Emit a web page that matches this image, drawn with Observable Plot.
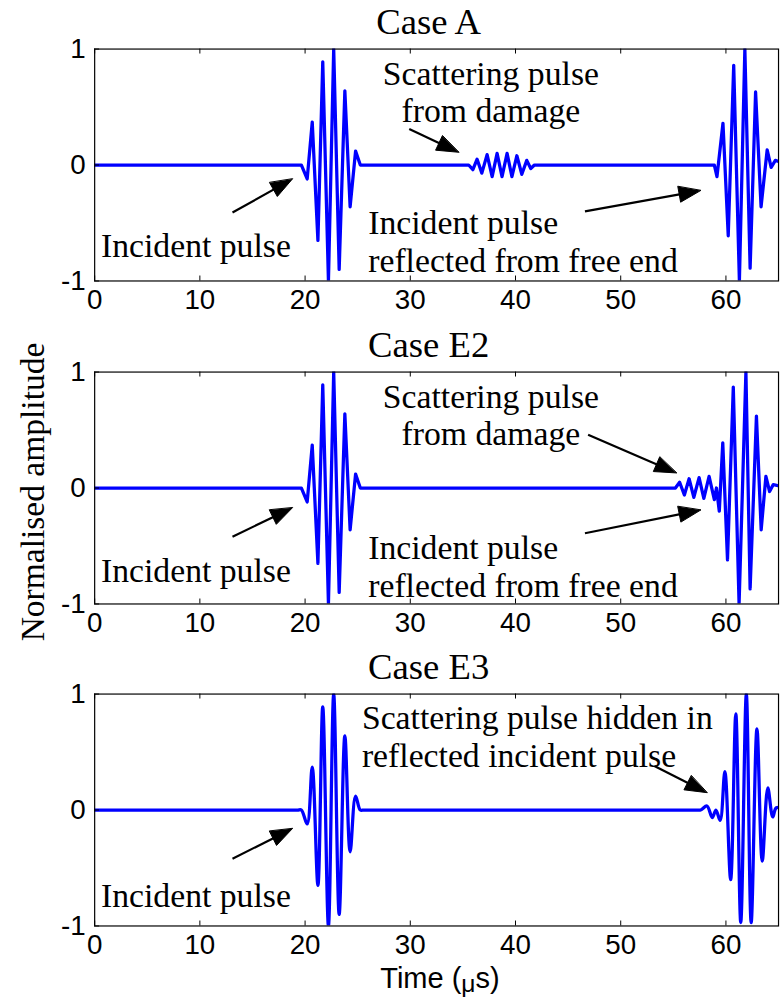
<!DOCTYPE html>
<html>
<head>
<meta charset="utf-8">
<script src="https://cdn.jsdelivr.net/npm/d3@7"></script>
<script src="https://cdn.jsdelivr.net/npm/@observablehq/plot@0.6"></script>
<style>
  html, body { margin: 0; padding: 0; background: #fff; overflow: hidden; }
  #fig { position: relative; width: 783px; height: 1003px; overflow: hidden; }
  .panel { position: absolute; left: 0; }
  #ylabel { position: absolute; left: 33px; top: 492px; transform: translate(-50%, -50%) rotate(-90deg);
            font: 33.5px "Liberation Serif", serif; white-space: nowrap; color: #000; }
  #xlabel { position: absolute; left: 440px; top: 978px; transform: translate(-50%, -50%);
            font: 29px "Liberation Sans", sans-serif; white-space: nowrap; color: #000; }
  #xlabel .mu { font-size: 0.85em; position: relative; top: 0.15em; }
</style>
</head>
<body>
<div id="fig">
  <div id="ylabel">Normalised amplitude</div>
  <div id="xlabel">Time (<span class="mu">μ</span>s)</div>
</div>
<script>
// Axis ticks and panel titles
const timeTicks = [0, 10, 20, 30, 40, 50, 60];
const ampTicks = [-1, 0, 1];
const caseTitles = ["Case A", "Case E2", "Case E3"];

// Waveform points [time (μs), normalised amplitude]
const leadIn = [[0, 0], [18, 0], [19.3, 0], [19.65, 0]];
const incidentPulse = [
  [20.2, -0.12], [20.68, 0.37], [21.22, -0.65], [21.68, 0.89], [22.22, -1.0],
  [22.72, 1.0], [23.24, -0.9], [23.78, 0.64], [24.28, -0.36], [24.8, 0.12], [25.25, 0]
];
const leadOut = [[25.6, 0], [27, 0]];
const scatterA = [
  [35.55, 0], [35.95, -0.04], [36.35, 0.05], [36.8, -0.07], [37.3, 0.09], [37.78, -0.1],
  [38.25, 0.1], [38.72, -0.1], [39.2, 0.1], [39.66, -0.1], [40.13, 0.08], [40.6, -0.08],
  [41.07, 0.04], [41.45, -0.03], [41.8, 0]
];
const reflectedA = [
  [58.9, 0], [59.15, -0.1], [59.72, 0.36], [60.22, -0.61], [60.74, 0.86], [61.28, -1.0],
  [61.8, 1.0], [62.3, -0.89], [62.82, 0.63], [63.34, -0.36], [63.92, 0.13], [64.3, -0.02],
  [64.7, 0.04], [66, 0]
];
const scatterReflectedE2 = [
  [55.2, 0], [55.6, 0.05], [56.05, -0.06], [56.5, 0.08], [56.95, -0.08], [57.45, 0.09],
  [57.9, -0.09], [58.4, 0.1], [58.9, -0.1], [59.1, 0.0], [59.37, -0.2], [59.7, 0.39],
  [60.15, -0.62], [60.7, 0.87], [61.25, -1.0], [61.9, 1.0], [62.3, -0.87], [62.9, 0.62],
  [63.35, -0.36], [63.8, 0.1], [64.15, -0.03], [64.5, 0.03], [66, 0]
];
const scatterReflectedE3 = [
  [55, 0], [57.2, 0], [57.6, 0], [58.2, 0.035], [58.7, -0.065], [59.05, 0.0], [59.45, -0.09],
  [59.9, 0.33], [60.45, -0.6], [60.94, 0.83], [61.41, -0.97], [61.94, 1.0], [62.4, -0.97],
  [62.95, 0.7], [63.45, -0.44], [63.98, 0.19], [64.45, -0.06], [64.8, 0.02], [66, 0]
];

// Annotation text blocks: anchor [time, amplitude] and alignment
const labelsA = [
  {t: 0.6, amp: -0.69, anchor: "start", text: "Incident pulse"},
  {t: 37.66, amp: 0.635, anchor: "middle", text: "Scattering pulse\nfrom damage"},
  {t: 26.0, amp: -0.655, anchor: "start", text: "Incident pulse\nreflected from free end"}
];
const labelsE2 = [
  {t: 0.6, amp: -0.71, anchor: "start", text: "Incident pulse"},
  {t: 37.66, amp: 0.635, anchor: "middle", text: "Scattering pulse\nfrom damage"},
  {t: 26.0, amp: -0.67, anchor: "start", text: "Incident pulse\nreflected from free end"}
];
const labelsE3 = [
  {t: 0.6, amp: -0.73, anchor: "start", text: "Incident pulse"},
  {t: 25.4, amp: 0.6375, anchor: "start", text: "Scattering pulse hidden in\nreflected incident pulse"}
];

// Annotation arrows: tail (t1, a1) to tip (t2, a2)
const arrowsA = [
  {t1: 13.1, a1: -0.41, t2: 18.8, a2: -0.12},
  {t1: 29.9, a1: 0.31, t2: 34.6, a2: 0.11},
  {t1: 46.6, a1: -0.40, t2: 57.6, a2: -0.22}
];
const arrowsE2 = [
  {t1: 46.9, a1: 0.46, t2: 55.3, a2: 0.13},
  {t1: 13.1, a1: -0.42, t2: 18.8, a2: -0.17},
  {t1: 46.6, a1: -0.39, t2: 57.6, a2: -0.19}
];
const arrowsE3 = [
  {t1: 13.1, a1: -0.42, t2: 18.8, a2: -0.16},
  {t1: 53.2, a1: 0.38, t2: 58.2, a2: 0.15}
];

// Layout of one panel
const W = 790, ML = 95, MR = 5, MT = 49, FH = 234, MB = 42;
const X_DOMAIN = [0, 65];
const HEAD_LEN = 22, HEAD_HALF = 8;
const SERIF = "Liberation Serif, Times New Roman, serif";
const SANS = "Liberation Sans, Arial, sans-serif";
const BLUE = "#0000ff";

function panel({title, series, curve, labels, arrows}) {
  // pixels per data unit, used to build filled arrow heads
  const kx = (W - ML - MR) / (X_DOMAIN[1] - X_DOMAIN[0]);
  const ky = FH / 2;
  const heads = [], shafts = [];
  arrows.forEach((a, i) => {
    const dx = (a.t2 - a.t1) * kx, dy = -(a.a2 - a.a1) * ky;
    const len = Math.hypot(dx, dy), ux = dx / len, uy = dy / len;
    const bx = -ux * HEAD_LEN, by = -uy * HEAD_LEN;
    const nx = -uy * HEAD_HALF, ny = ux * HEAD_HALF;
    const toData = (ox, oy) => ({t: a.t2 + ox / kx, amp: a.a2 - oy / ky, id: i});
    heads.push(toData(0, 0), toData(bx + nx, by + ny), toData(bx - nx, by - ny));
    const base = toData(bx * 0.6, by * 0.6);
    shafts.push({t1: a.t1, a1: a.a1, t2: base.t, a2: base.amp});
  });
  const textStyle = {fontFamily: SERIF, fontSize: 34, fill: "black", lineHeight: 1.12};
  return Plot.plot({
    width: W, height: MT + FH + MB,
    marginLeft: ML, marginRight: MR, marginTop: MT, marginBottom: MB,
    style: {fontFamily: SANS, fontSize: "28px", color: "black", background: "transparent", overflow: "visible"},
    x: {domain: X_DOMAIN, ticks: timeTicks, tickSize: 0, tickPadding: 8, tickFormat: d => String(d), label: null},
    y: {domain: [-1, 1], ticks: ampTicks, tickSize: 0, tickPadding: 9, tickFormat: d => String(d), label: null},
    marks: [
      Plot.line(series, {x: d => d[0], y: d => d[1], stroke: BLUE, strokeWidth: 3.3, curve, clip: true}),
      Plot.frame({stroke: "black", strokeWidth: 1.2}),
      Plot.tickX(timeTicks, {x: d => d, insetTop: FH - 5, stroke: "black"}),
      Plot.tickX(timeTicks, {x: d => d, insetBottom: FH - 5, stroke: "black"}),
      Plot.tickY(ampTicks, {y: d => d, insetRight: W - ML - MR - 5, stroke: "black"}),
      Plot.text(labels.filter(d => d.anchor === "start"),
                {x: "t", y: "amp", text: "text", textAnchor: "start", lineAnchor: "middle", ...textStyle}),
      Plot.text(labels.filter(d => d.anchor === "middle"),
                {x: "t", y: "amp", text: "text", textAnchor: "middle", lineAnchor: "middle", ...textStyle}),
      Plot.link(shafts, {x1: "t1", y1: "a1", x2: "t2", y2: "a2", stroke: "black", strokeWidth: 2.2}),
      Plot.line(heads, {x: "t", y: "amp", z: "id", fill: "black", stroke: "black", strokeWidth: 1, curve: "linear-closed"}),
      Plot.text([title], {text: d => d, frameAnchor: "top", lineAnchor: "bottom", dy: -15, dx: -8,
                          fontFamily: SERIF, fontSize: 37, fill: "black"})
    ]
  });
}

const panels = [
  {title: caseTitles[0], series: [...leadIn, ...incidentPulse, ...leadOut, ...scatterA, ...reflectedA],
   curve: "linear", labels: labelsA, arrows: arrowsA},
  {title: caseTitles[1], series: [...leadIn, ...incidentPulse, ...leadOut, ...scatterReflectedE2],
   curve: "linear", labels: labelsE2, arrows: arrowsE2},
  {title: caseTitles[2], series: [...leadIn, ...incidentPulse, ...leadOut, ...scatterReflectedE3],
   curve: "catmull-rom", labels: labelsE3, arrows: arrowsE3}
];
const tops = [0, 323, 645];
const fig = document.getElementById("fig");
panels.forEach((p, i) => {
  const svg = panel(p);
  svg.classList.add("panel");
  svg.style.top = tops[i] + "px";
  fig.insertBefore(svg, fig.firstChild);
});
</script>
</body>
</html>
